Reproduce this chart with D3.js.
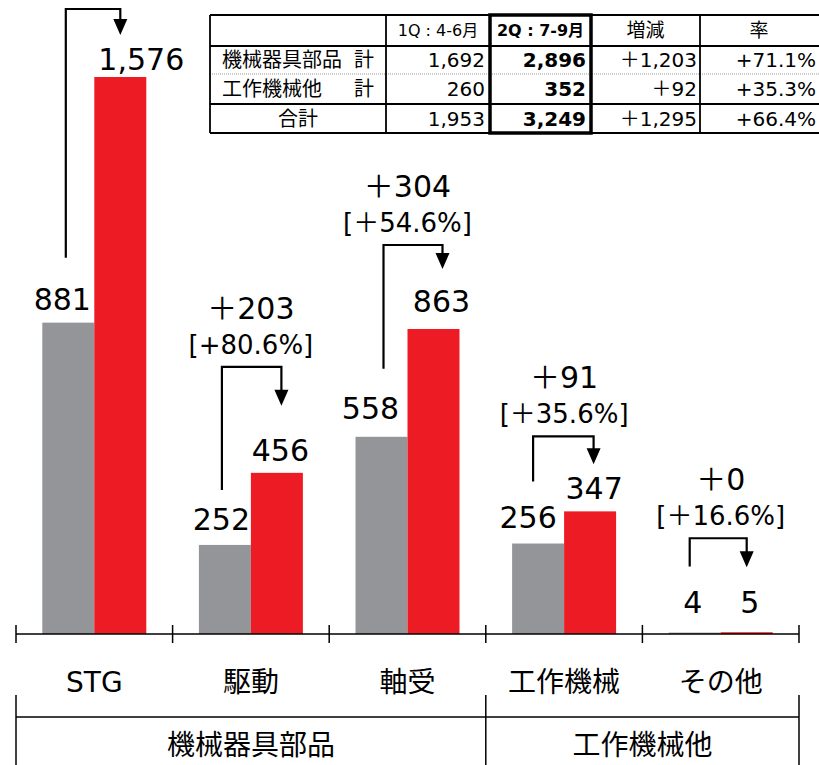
<!DOCTYPE html>
<html>
<head>
<meta charset="utf-8">
<script src="https://cdn.jsdelivr.net/npm/d3@7"></script>
<style>
  html, body { margin: 0; padding: 0; background: #fff; }
  svg { display: block; }
</style>
</head>
<body>
<svg id="chart" width="819" height="765"></svg>
<script>
// ---------------- data ----------------
const categories = ["STG", "駆動", "軸受", "工作機械", "その他"];
const q1Values = [881, 252, 558, 256, 4];
const q2Values = [1576, 456, 863, 347, 5];
const q1Labels = ["881", "252", "558", "256", "4"];
const q2Labels = ["1,576", "456", "863", "347", "5"];
const deltaLabels = [null, "＋203", "＋304", "＋91", "＋0"];
const pctLabels = [null, "[+80.6%]", "[＋54.6%]", "[＋35.6%]", "[＋16.6%]"];
const groupNames = ["機械器具部品", "工作機械他"];
const groupFirst = [0, 3];
const groupLast = [2, 4];

const tableHeader = ["", "1Q : 4-6月", "2Q : 7-9月", "増減", "率"];
const tableRowNames = ["機械器具部品", "工作機械他", "合計"];
const tableRowSuffix = ["計", "計", ""];
const tableQ1 = ["1,692", "260", "1,953"];
const tableQ2 = ["2,896", "352", "3,249"];
const tableDelta = ["＋1,203", "＋92", "＋1,295"];
const tableRate = ["+71.1%", "+35.3%", "+66.4%"];

// ---------------- layout (pixel tweaks, not data) ----------------
const q1LabelShift = [[-6, -13], [-3.5, -15], [-11, -18], [-10, -16], [-2, -20]];
const q2LabelShift = [[21, -7], [3.5, -12], [8, -17], [4, -12], [3, -19]];
const arrowTop = [-68, -106, -84, -75, -94];
const arrowTip = [-42, -67, -60, -47, -65];
const arrowLeftBottom = [-65, -55, -68, -62, -66];
const arrowDxL = [-2.5, -3, 2, -5, -5];
const arrowDxR = [0, 4.5, 9, 3.5, 0];

const GRAY = "#939598";
const RED = "#ED1C24";
const NUMFONT = "'DejaVu Sans', 'Noto Sans CJK JP', sans-serif";
const JPFONT = "'Noto Sans CJK JP', 'DejaVu Sans', sans-serif";

const svg = d3.select("#chart");

const x = d3.scaleBand().domain(categories).range([16, 799]).paddingInner(0).paddingOuter(0);
const x1 = d3.scaleBand().domain(["q1", "q2"]).range([0, x.bandwidth()]).paddingOuter(0.506).paddingInner(0);
const y = d3.scaleLinear().domain([0, 1576]).range([634, 77]);

const data = categories.map((c, i) => ({ c, i, q1: q1Values[i], q2: q2Values[i] }));

// bars
const g = svg.append("g");
g.selectAll("rect.q1").data(data).join("rect")
  .attr("class", "q1")
  .attr("x", d => x(d.c) + x1("q1"))
  .attr("width", x1.bandwidth())
  .attr("y", d => y(d.q1))
  .attr("height", d => y(0) - y(d.q1))
  .attr("fill", GRAY);
g.selectAll("rect.q2").data(data).join("rect")
  .attr("class", "q2")
  .attr("x", d => x(d.c) + x1("q2"))
  .attr("width", x1.bandwidth())
  .attr("y", d => y(d.q2))
  .attr("height", d => y(0) - y(d.q2))
  .attr("fill", RED);

// value labels
g.selectAll("text.l1").data(data).join("text")
  .attr("x", d => x(d.c) + x1("q1") + x1.bandwidth() / 2 + q1LabelShift[d.i][0])
  .attr("y", d => y(d.q1) + q1LabelShift[d.i][1])
  .attr("text-anchor", "middle")
  .attr("font-family", NUMFONT).attr("font-size", 30).attr("fill", "#000")
  .text(d => q1Labels[d.i]);
g.selectAll("text.l2").data(data).join("text")
  .attr("x", d => x(d.c) + x1("q2") + x1.bandwidth() / 2 + q2LabelShift[d.i][0])
  .attr("y", d => y(d.q2) + q2LabelShift[d.i][1])
  .attr("text-anchor", "middle")
  .attr("font-family", NUMFONT).attr("font-size", 30).attr("fill", "#000")
  .text(d => q2Labels[d.i]);

// arrows
data.forEach(d => {
  const xl = x(d.c) + x1("q1") + x1.bandwidth() / 2 + arrowDxL[d.i];
  const xr = x(d.c) + x1("q2") + x1.bandwidth() / 2 + arrowDxR[d.i];
  const top = y(d.q2) + arrowTop[d.i];
  const tip = y(d.q2) + arrowTip[d.i];
  const lb = y(d.q1) + arrowLeftBottom[d.i];
  const headH = 16, headW = 14;
  g.append("path")
    .attr("d", `M${xl},${lb} L${xl},${top} L${xr},${top} L${xr},${tip - headH + 1}`)
    .attr("fill", "none").attr("stroke", "#000").attr("stroke-width", 2.2);
  g.append("path")
    .attr("d", `M${xr - headW / 2},${tip - headH} L${xr + headW / 2},${tip - headH} L${xr},${tip} Z`)
    .attr("fill", "#000");
  if (deltaLabels[d.i]) {
    const cx = x(d.c) + x.bandwidth() / 2;
    g.append("text").attr("x", cx).attr("y", top - 48)
      .attr("text-anchor", "middle").attr("font-family", NUMFONT).attr("font-size", 30)
      .text(deltaLabels[d.i]);
    g.append("text").attr("x", cx).attr("y", top - 13)
      .attr("text-anchor", "middle").attr("font-family", NUMFONT).attr("font-size", 26)
      .text(pctLabels[d.i]);
  }
});

// axis
const axisY = y(0);
const bounds = categories.map(c => x(c)).concat([x.range()[1]]);
const ax = svg.append("g");
ax.append("line").attr("x1", x.range()[0]).attr("x2", x.range()[1])
  .attr("y1", axisY).attr("y2", axisY).attr("stroke", "#000").attr("stroke-width", 1.5);
ax.selectAll("line.tick").data(bounds).join("line")
  .attr("x1", d => d).attr("x2", d => d)
  .attr("y1", axisY - 9).attr("y2", axisY + 9)
  .attr("stroke", "#000").attr("stroke-width", 1.5);
ax.selectAll("text.cat").data(categories).join("text")
  .attr("x", c => x(c) + x.bandwidth() / 2)
  .attr("y", 692)
  .attr("text-anchor", "middle")
  .attr("font-family", "'DejaVu Sans', 'Noto Sans CJK JP', sans-serif").attr("font-size", 28)
  .text(c => c);

// group brackets
const gy = 717;
ax.append("line").attr("x1", x.range()[0]).attr("x2", x.range()[1])
  .attr("y1", gy).attr("y2", gy).attr("stroke", "#000").attr("stroke-width", 1.5);
const groupBounds = [x(categories[groupFirst[0]])].concat(groupLast.map(i => x(categories[i]) + x.bandwidth()));
ax.selectAll("line.gsep").data(groupBounds).join("line")
  .attr("x1", d => d).attr("x2", d => d)
  .attr("y1", 695).attr("y2", 765)
  .attr("stroke", "#000").attr("stroke-width", 1.5);
groupNames.forEach((n, k) => {
  const a = x(categories[groupFirst[k]]);
  const b = x(categories[groupLast[k]]) + x.bandwidth();
  ax.append("text").attr("x", (a + b) / 2).attr("y", 755)
    .attr("text-anchor", "middle").attr("font-family", JPFONT).attr("font-size", 28)
    .text(n);
});

// ---------------- table ----------------
const colX = [210, 386, 490, 591, 700, 822];
const rowY = [15, 46, 74, 104, 133];
const t = svg.append("g");
rowY.forEach((yy, k) => {
  const ln = t.append("line").attr("x1", colX[0]).attr("x2", colX[5]).attr("y1", yy).attr("y2", yy);
  if (k === 2) ln.attr("stroke", "#999").attr("stroke-width", 1.2).attr("stroke-dasharray", "1,1");
  else ln.attr("stroke", "#000").attr("stroke-width", 1.8);
});
colX.forEach(xx => {
  t.append("line").attr("x1", xx).attr("x2", xx).attr("y1", rowY[0]).attr("y2", rowY[4])
    .attr("stroke", "#000").attr("stroke-width", 1.8);
});
t.append("rect").attr("x", colX[2]).attr("y", rowY[0]).attr("width", colX[3] - colX[2]).attr("height", rowY[4] - rowY[0])
  .attr("fill", "none").attr("stroke", "#000").attr("stroke-width", 3.5);

const headBase = 36;
t.append("text").attr("x", (colX[1] + colX[2]) / 2).attr("y", headBase).attr("text-anchor", "middle")
  .attr("font-family", NUMFONT).attr("font-size", 16).text(tableHeader[1]);
t.append("text").attr("x", (colX[2] + colX[3]) / 2).attr("y", headBase).attr("text-anchor", "middle")
  .attr("font-family", NUMFONT).attr("font-size", 16).attr("font-weight", "bold").text(tableHeader[2]);
t.append("text").attr("x", (colX[3] + colX[4]) / 2).attr("y", headBase + 1).attr("text-anchor", "middle")
  .attr("font-family", JPFONT).attr("font-size", 19).text(tableHeader[3]);
t.append("text").attr("x", (colX[4] + 818) / 2).attr("y", headBase + 1).attr("text-anchor", "middle")
  .attr("font-family", JPFONT).attr("font-size", 19).text(tableHeader[4]);

const rowBase = [67, 96, 126];
tableRowNames.forEach((n, r) => {
  if (tableRowSuffix[r]) {
    t.append("text").attr("x", 222).attr("y", rowBase[r]).attr("font-family", JPFONT).attr("font-size", 20).text(n);
    t.append("text").attr("x", 374).attr("y", rowBase[r]).attr("text-anchor", "end").attr("font-family", JPFONT).attr("font-size", 20).text(tableRowSuffix[r]);
  } else {
    t.append("text").attr("x", (colX[0] + colX[1]) / 2).attr("y", rowBase[r]).attr("text-anchor", "middle").attr("font-family", JPFONT).attr("font-size", 20).text(n);
  }
  t.append("text").attr("x", colX[2] - 5).attr("y", rowBase[r]).attr("text-anchor", "end")
    .attr("font-family", NUMFONT).attr("font-size", 20).text(tableQ1[r]);
  t.append("text").attr("x", colX[3] - 5).attr("y", rowBase[r]).attr("text-anchor", "end")
    .attr("font-family", NUMFONT).attr("font-size", 20).attr("font-weight", "bold").text(tableQ2[r]);
  t.append("text").attr("x", colX[4] - 3).attr("y", rowBase[r]).attr("text-anchor", "end")
    .attr("font-family", NUMFONT).attr("font-size", 20).text(tableDelta[r]);
  t.append("text").attr("x", 816).attr("y", rowBase[r]).attr("text-anchor", "end")
    .attr("font-family", NUMFONT).attr("font-size", 20).text(tableRate[r]);
});
</script>
</body>
</html>
